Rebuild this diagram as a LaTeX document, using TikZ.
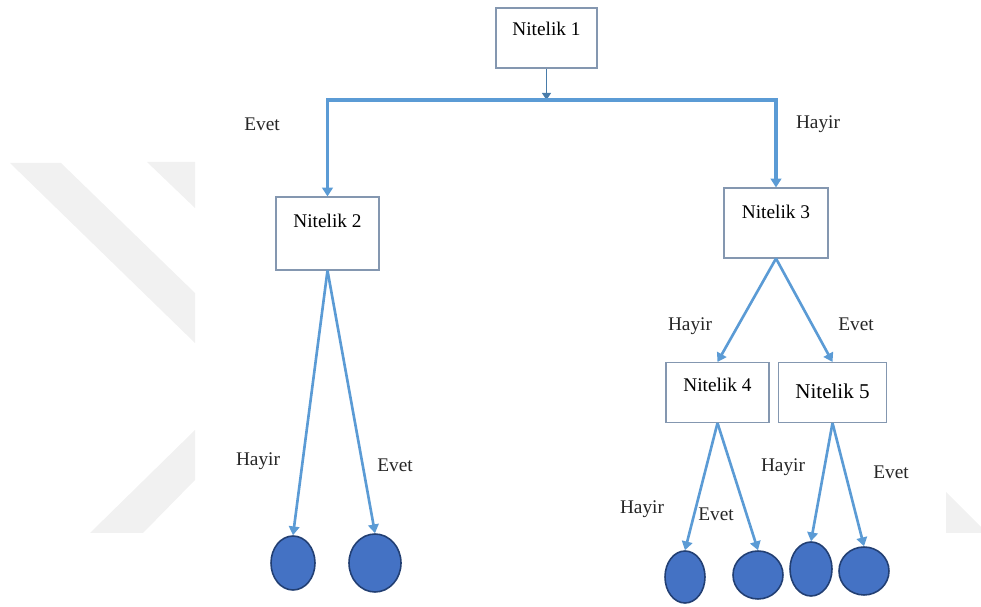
\documentclass[tikz,border=0pt]{standalone}
\usepackage{fontspec}
\setmainfont{Liberation Serif}
\usepackage{tikz}
\usetikzlibrary{arrows.meta}
\usetikzlibrary{shapes.geometric}

\definecolor{okmavi}{HTML}{5B9BD5}
\definecolor{kutukenar}{HTML}{8497B0}
\definecolor{yaprakdolgu}{HTML}{4472C4}
\definecolor{yaprakkenar}{HTML}{223F73}
\definecolor{filigran}{HTML}{F1F1F1}

\tikzset{
	kutu/.style={draw=kutukenar,line width=0.6pt,fill=white,inner sep=0pt},
	baslik/.style={anchor=north,inner sep=0pt,yshift=-8pt,font=\fontsize{11}{13}\selectfont},
	yaprak/.style={ellipse,draw=yaprakkenar,line width=0.9pt,fill=yaprakdolgu,inner sep=0pt},
	kalin/.style={draw=okmavi,line width=1.9pt,-{Triangle[length=5pt,width=6pt]}},
	kalem/.style={draw=okmavi,line width=1.5pt,-{Triangle[length=5pt,width=6pt]}},
	ince/.style={draw=okmavi!80!black,line width=0.9pt,-{Triangle[length=4pt,width=5pt]}},
	etiket/.style={inner sep=0pt,text=black!85,font=\fontsize{11}{13}\selectfont}
}

\begin{document}
\begin{tikzpicture}[x=0.02cm,y=-0.02cm]
		\useasboundingbox (0,0) rectangle (981,607);
		% faint watermark in the background
		\fill [filigran] (10,163) -- (61,163) -- (195,293) -- (195,343) -- cycle;
		\fill [filigran] (147,162) -- (195,162) -- (195,208) -- cycle;
		\fill [filigran] (90,533) -- (195,430) -- (195,480) -- (143,533) -- cycle;
		\fill [filigran] (946,492) -- (981,527) -- (981,533) -- (946,533) -- cycle;
		% boxes
		\node [kutu,minimum width=2.02cm,minimum height=1.2cm,label={[baslik]north:Nitelik 1}] (n1) at (546.5,38) {};
		\node [kutu,minimum width=2.06cm,minimum height=1.46cm,label={[baslik,yshift=-2pt]north:Nitelik 2}] (n2) at (327.5,233.5) {};
		\node [kutu,minimum width=2.08cm,minimum height=1.4cm,label={[baslik,yshift=-2pt]north:Nitelik 3}] (n3) at (776,223) {};
		\node [kutu,minimum width=2.06cm,minimum height=1.2cm,label={[baslik,yshift=-1pt]north:Nitelik 4}] (n4) at (717.5,392.5) {};
		\node [kutu,minimum width=2.16cm,minimum height=1.2cm,label={[baslik,yshift=-4pt,font=\fontsize{12}{14}\selectfont]north:Nitelik 5}] (n5) at (832.5,392.5) {};
		% leaves
		\node [yaprak,minimum width=0.88cm,minimum height=1.08cm] (y1) at (293,563) {};
		\node [yaprak,minimum width=1.04cm,minimum height=1.16cm] (y2) at (375,563) {};
		\node [yaprak,minimum width=0.8cm,minimum height=1.04cm] (y3) at (685,577) {};
		\node [yaprak,minimum width=1.0cm,minimum height=0.96cm] (y4) at (758,575) {};
		\node [yaprak,minimum width=0.84cm,minimum height=1.08cm] (y5) at (811,569) {};
		\node [yaprak,minimum width=1.0cm,minimum height=0.96cm] (y6) at (864,571) {};
		% split under the root
		\coordinate (catal) at (546.5,100);
		\draw [ince] (n1.south) -- (catal);
		\draw [kalin] (catal) -| (n2.north);
		\draw [kalin] (catal) -| (n3.north);
		\draw [kalem] (n3.south) -- (n4.north);
		\draw [kalem] (n3.south) -- (n5.north);
		\draw [kalem] (n2.south) -- (y1.north);
		\draw [kalem] (n2.south) -- (y2.north);
		\draw [kalem] (n4.south) -- (y3.north);
		\draw [kalem] (n4.south) -- (y4.north);
		\draw [kalem] (n5.south) -- (y5.north);
		\draw [kalem] (n5.south) -- (y6.north);
		% branch labels
		\node [etiket] (e1) at (262,124) {Evet};
		\node [etiket] (h1) at (818,124) {Hayir};
		\node [etiket] (h2) at (690,326) {Hayir};
		\node [etiket] (e2) at (856,324) {Evet};
		\node [etiket] (h3) at (258,461) {Hayir};
		\node [etiket] (e3) at (395,465) {Evet};
		\node [etiket] (h4) at (642,509) {Hayir};
		\node [etiket] (e4) at (716,514) {Evet};
		\node [etiket] (h5) at (783,467) {Hayir};
		\node [etiket] (e5) at (891,472) {Evet};
	\end{tikzpicture}
\end{document}
